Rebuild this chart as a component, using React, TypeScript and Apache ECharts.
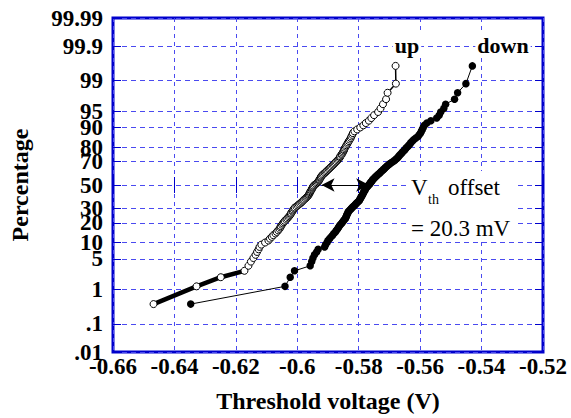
import React, { useEffect, useRef } from 'react';
import * as echarts from 'echarts';

// x axis ticks (V)
const xTicks = [-0.66, -0.64, -0.62, -0.6, -0.58, -0.56, -0.54, -0.52];
// probability axis ticks (%)
const percentTicks = [0.01, 0.1, 1, 5, 10, 20, 30, 50, 70, 80, 90, 95, 99, 99.9, 99.99];
const percentLabels = ['.01', '.1', '1', '5', '10', '20', '30', '50', '70', '80', '90', '95', '99', '99.9', '99.99'];

// threshold voltages (V), sorted, "up" sweep
const upVoltages = [
  -0.6468, -0.6328, -0.6249, -0.6172, -0.6159, -0.6151, -0.6143, -0.6136, -0.6131, -0.6126,
  -0.6123, -0.6117, -0.6105, -0.6094, -0.6089, -0.6083, -0.6078, -0.6071, -0.6067, -0.6062,
  -0.6058, -0.6055, -0.6054, -0.6050, -0.6047, -0.6044, -0.6041, -0.6036, -0.6033, -0.6029,
  -0.6026, -0.6023, -0.6021, -0.6020, -0.6016, -0.6015, -0.6013, -0.6010, -0.6008, -0.6003,
  -0.5999, -0.5995, -0.5991, -0.5987, -0.5984, -0.5981, -0.5978, -0.5974, -0.5971, -0.5968,
  -0.5965, -0.5963, -0.5961, -0.5960, -0.5958, -0.5957, -0.5955, -0.5953, -0.5952, -0.5950,
  -0.5949, -0.5947, -0.5944, -0.5940, -0.5937, -0.5934, -0.5931, -0.5929, -0.5928, -0.5926,
  -0.5924, -0.5923, -0.5921, -0.5918, -0.5915, -0.5911, -0.5908, -0.5905, -0.5902, -0.5898,
  -0.5895, -0.5892, -0.5889, -0.5885, -0.5882, -0.5879, -0.5876, -0.5873, -0.5869, -0.5866,
  -0.5863, -0.5861, -0.5860, -0.5856, -0.5855, -0.5852, -0.5850, -0.5848, -0.5847, -0.5845,
  -0.5842, -0.5840, -0.5837, -0.5835, -0.5832, -0.5829, -0.5826, -0.5824, -0.5821, -0.5819,
  -0.5814, -0.5805, -0.5795, -0.5785, -0.5777, -0.5767, -0.5759, -0.5750, -0.5737, -0.5729,
  -0.5721, -0.5711, -0.5706, -0.5679, -0.5680,
];

// threshold voltages (V), sorted, "down" sweep
const downVoltages = [
  -0.6347, -0.6040, -0.6023, -0.6009, -0.5958, -0.5953, -0.5949, -0.5944, -0.5937, -0.5932,
  -0.5911, -0.5908, -0.5903, -0.5900, -0.5895, -0.5890, -0.5885, -0.5881, -0.5876, -0.5873,
  -0.5869, -0.5866, -0.5863, -0.5860, -0.5856, -0.5853, -0.5850, -0.5847, -0.5843, -0.5842,
  -0.5840, -0.5839, -0.5837, -0.5835, -0.5834, -0.5831, -0.5827, -0.5824, -0.5821, -0.5818,
  -0.5814, -0.5811, -0.5808, -0.5805, -0.5801, -0.5798, -0.5797, -0.5795, -0.5793, -0.5792,
  -0.5790, -0.5788, -0.5787, -0.5785, -0.5784, -0.5782, -0.5780, -0.5779, -0.5777, -0.5776,
  -0.5772, -0.5771, -0.5767, -0.5764, -0.5763, -0.5761, -0.5758, -0.5756, -0.5754, -0.5751,
  -0.5748, -0.5745, -0.5742, -0.5739, -0.5735, -0.5732, -0.5729, -0.5726, -0.5722, -0.5719,
  -0.5716, -0.5713, -0.5709, -0.5706, -0.5701, -0.5698, -0.5693, -0.5688, -0.5683, -0.5679,
  -0.5675, -0.5672, -0.5669, -0.5666, -0.5662, -0.5659, -0.5656, -0.5651, -0.5648, -0.5645,
  -0.5640, -0.5637, -0.5633, -0.5630, -0.5625, -0.5620, -0.5614, -0.5607, -0.5603, -0.5599,
  -0.5596, -0.5593, -0.5590, -0.5586, -0.5578, -0.5565, -0.5546, -0.5538, -0.5533, -0.5523,
  -0.5517, -0.5488, -0.5478, -0.5451, -0.5430,
];

// number of leading "up" points joined by the heavy line
const upHeavyCount = 4;
// V_th offset arrow ends (V) at the 50 % level
const offsetArrow = [-0.5921, -0.5766];

// inverse standard normal CDF (Acklam)
function normInv(p: number): number {
  const a = [-39.69683028665376, 220.9460984245205, -275.9285104469687, 138.357751867269, -30.66479806614716, 2.506628277459239];
  const b = [-54.47609879822406, 161.5858368580409, -155.6989798598866, 66.80131188771972, -13.28068155288572];
  const c = [-0.007784894002430293, -0.3223964580411365, -2.400758277161838, -2.549732539343734, 4.374664141464968, 2.938163982698783];
  const d = [0.007784695709041462, 0.3224671290700398, 2.445134137142996, 3.754408661907416];
  const pLow = 0.02425;
  if (p < pLow) {
    const q = Math.sqrt(-2 * Math.log(p));
    return (((((c[0] * q + c[1]) * q + c[2]) * q + c[3]) * q + c[4]) * q + c[5]) / ((((d[0] * q + d[1]) * q + d[2]) * q + d[3]) * q + 1);
  }
  if (p <= 1 - pLow) {
    const q = p - 0.5;
    const r = q * q;
    return ((((((a[0] * r + a[1]) * r + a[2]) * r + a[3]) * r + a[4]) * r + a[5]) * q) / (((((b[0] * r + b[1]) * r + b[2]) * r + b[3]) * r + b[4]) * r + 1);
  }
  const q = Math.sqrt(-2 * Math.log(1 - p));
  return -(((((c[0] * q + c[1]) * q + c[2]) * q + c[3]) * q + c[4]) * q + c[5]) / ((((d[0] * q + d[1]) * q + d[2]) * q + d[3]) * q + 1);
}

const zTicks = percentTicks.map((p) => normInv(p / 100));
const zMin = zTicks[0];
const zMax = zTicks[zTicks.length - 1];

// median-rank plotting position (Hazen)
const toPoints = (vs: number[]) => vs.map((v, i) => [v, normInv((i + 0.5) / vs.length)]);

const FONT = "'Liberation Serif', 'Times New Roman', serif";
const FRAME = '#0000cc';
const GRID = '#4a4af0';

export default function App() {
  const ref = useRef<HTMLDivElement>(null);

  useEffect(() => {
    if (!ref.current) return;
    const chart = echarts.init(ref.current, undefined, { renderer: 'svg' });
    const upPts = toPoints(upVoltages);
    const downPts = toPoints(downVoltages);
    const fmtZ = (val: number) => {
      let best = 0;
      for (let i = 1; i < zTicks.length; i++) {
        if (Math.abs(zTicks[i] - val) < Math.abs(zTicks[best] - val)) best = i;
      }
      return percentLabels[best];
    };
    const tickLabelStyle = { fontFamily: FONT, fontWeight: 'bold' as const, fontSize: 23, color: '#000' };
    const nameStyle = { fontFamily: FONT, fontWeight: 'bold' as const, fontSize: 24, color: '#000' };

    chart.setOption({
      animation: false,
      grid: {
        left: 110, right: 28, top: 18, bottom: 64,
        show: true, borderColor: FRAME, borderWidth: 3, backgroundColor: '#fff',
      },
      xAxis: [
        {
          type: 'value', min: xTicks[0], max: xTicks[xTicks.length - 1], interval: 0.02,
          axisLine: { show: false },
          axisTick: { show: true, inside: true, length: 8, lineStyle: { color: FRAME, width: 1 } },
          axisLabel: { ...tickLabelStyle, margin: 3, formatter: (v: number) => String(+v.toFixed(2)) },
          splitLine: { show: true, lineStyle: { color: GRID, width: 1, type: [4, 4] } },
          name: 'Threshold voltage (V)', nameLocation: 'middle', nameGap: 37,
          nameTextStyle: nameStyle,
        },
        {
          type: 'value', position: 'top', min: xTicks[0], max: xTicks[xTicks.length - 1], interval: 0.02,
          axisLine: { show: false },
          axisTick: { show: true, inside: true, length: 8, lineStyle: { color: FRAME, width: 1 } },
          axisLabel: { show: false }, splitLine: { show: false },
        },
      ],
      yAxis: [
        {
          type: 'value', min: zMin, max: zMax,
          axisLine: { show: false },
          axisTick: { show: true, inside: true, length: 8, customValues: zTicks, lineStyle: { color: FRAME, width: 1 } },
          axisLabel: { ...tickLabelStyle, margin: 10, customValues: zTicks, formatter: fmtZ },
          splitLine: { show: true, lineStyle: { color: GRID, width: 1, type: [5, 4] } },
          name: 'Percentage', nameLocation: 'middle', nameGap: 81, nameRotate: 90,
          nameTextStyle: nameStyle,
        },
        {
          type: 'value', position: 'right', min: zMin, max: zMax,
          axisLine: { show: false },
          axisTick: { show: true, inside: true, length: 8, customValues: zTicks, lineStyle: { color: FRAME, width: 1 } },
          axisLabel: { show: false }, splitLine: { show: false },
        },
      ],
      series: [
        {
          name: 'up heavy', type: 'line', data: upPts.slice(0, upHeavyCount),
          showSymbol: false, lineStyle: { color: '#000', width: 4.5 }, z: 2, silent: true,
        },
        {
          name: 'up', type: 'line', data: upPts,
          symbol: 'circle', symbolSize: 7,
          itemStyle: { color: '#fff', borderColor: '#000', borderWidth: 1 },
          lineStyle: { color: '#000', width: 1.5 }, z: 3,
          markLine: {
            silent: true, symbol: ['arrow', 'arrow'], symbolSize: [10, 13],
            label: { show: false },
            lineStyle: { color: '#000', width: 1, type: 'solid' },
            data: [[{ coord: [offsetArrow[0], 0] }, { coord: [offsetArrow[1], 0] }]],
          },
        },
        {
          name: 'down', type: 'line', data: downPts,
          symbol: 'circle', symbolSize: 7.5,
          itemStyle: { color: '#000', borderColor: '#000', borderWidth: 0 },
          lineStyle: { color: '#000', width: 1 }, z: 4,
        },
      ],
      graphic: [
        { type: 'rect', z: 1, shape: { x: 408, y: 171, width: 110, height: 71 }, style: { fill: '#fff' } },
        { type: 'text', z: 1, x: 407, y: 45, style: { text: 'up', font: `bold 22px ${FONT}`, fill: '#000', align: 'center', verticalAlign: 'middle', backgroundColor: '#fff', padding: [0, 2] } },
        { type: 'text', z: 1, x: 503, y: 45, style: { text: 'down', font: `bold 22px ${FONT}`, fill: '#000', align: 'center', verticalAlign: 'middle', backgroundColor: '#fff', padding: [0, 2] } },
        { type: 'text', z: 1, x: 411, y: 187, style: { text: 'V', font: `23px ${FONT}`, fill: '#000', align: 'left', verticalAlign: 'middle' } },
        { type: 'text', z: 1, x: 428, y: 199, style: { text: 'th', font: `14px ${FONT}`, fill: '#000', align: 'left', verticalAlign: 'middle' } },
        { type: 'text', z: 1, x: 448, y: 187, style: { text: 'offset', font: `23px ${FONT}`, fill: '#000', align: 'left', verticalAlign: 'middle' } },
        { type: 'text', z: 1, x: 411, y: 228, style: { text: '= 20.3 mV', font: `23px ${FONT}`, fill: '#000', align: 'left', verticalAlign: 'middle' } },
      ],
    });
    return () => chart.dispose();
  }, []);

  return <div ref={ref} style={{ position: 'fixed', left: 0, top: 0, width: 571, height: 418, background: '#fff' }} />;
}
